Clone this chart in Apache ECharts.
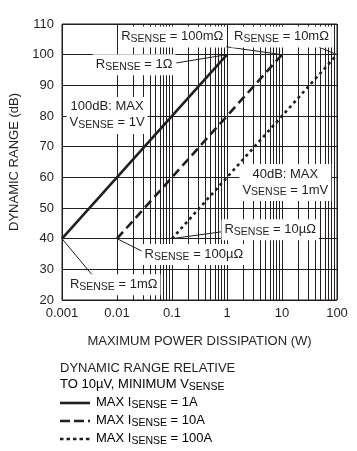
<!DOCTYPE html>
<html><head><meta charset="utf-8">
<script src="https://cdn.jsdelivr.net/npm/echarts@6/dist/echarts.min.js"></script>
<style>html,body{margin:0;padding:0;background:#fff}#c{width:357px;height:451px}</style>
</head><body><div id="c"></div>
<script>
const FONT = "'Liberation Sans Narrow', 'Arial Narrow', 'Liberation Sans', sans-serif";
const INK = '#231f20';
const FS = 13;

// Axis ticks
const xTickLabels = ['0.001', '0.01', '0.1', '1', '10', '100'];
const yTickLabels = [20, 30, 40, 50, 60, 70, 80, 90, 100, 110];
const minorMultipliers = [2, 3, 4, 5, 6, 7, 8, 9];
const decades = [0.001, 0.01, 0.1, 1, 10];

// Series (dynamic range vs max power dissipation)
const solid1A = [[0.001, 40], [1, 100]];
const dashed10A = [[0.01, 40], [10, 100]];
const dotted100A = [[0.1, 40], [100, 100]];

// Annotation texts and their anchor positions (data coords)
const annoLabels = [
  { coord: [0.101, 105.8], text: '{n|R}{s|SENSE}{n| = 100mΩ}' },
  { coord: [0.0205, 96.7], text: '{n|R}{s|SENSE}{n| = 1Ω}' },
  { coord: [9.8, 105.8], text: '{n|R}{s|SENSE}{n| = 10mΩ}' },
  { coord: [0.0066, 80.2], text: '{n|100dB: MAX}\n{n|V}{s|SENSE}{n| = 1V}' },
  { coord: [11.5, 58.3], text: '{n|40dB: MAX}\n{n|V}{s|SENSE}{n| = 1mV}' },
  { coord: [6.1, 42.9], text: '{n|R}{s|SENSE}{n| = 10µΩ}' },
  { coord: [0.25, 34.8], text: '{n|R}{s|SENSE}{n| = 100µΩ}' },
  { coord: [0.0087, 25.0], text: '{n|R}{s|SENSE}{n| = 1mΩ}' }
];
// Arrows: [from, to] in data coords
const arrows = [
  [[0.12, 97.3], [1, 100]],
  [[0.95, 102.6], [10, 100]],
  [[45, 102.6], [100, 100]],
  [[0.84, 42.3], [0.1, 40]],
  [[0.031, 35.6], [0.01, 40]],
  [[0.0038, 27.5], [0.001, 40]]
];

const minorX = [];
decades.forEach(d => minorMultipliers.forEach(m => minorX.push(+(d * m).toPrecision(3))));

const rich = {
  n: { fontFamily: FONT, fontSize: FS, color: INK, lineHeight: 16 },
  s: { fontFamily: FONT, fontSize: 10.5, color: INK, lineHeight: 6, verticalAlign: 'bottom' }
};

const chart = echarts.init(document.getElementById('c'), null, { renderer: 'canvas' });
chart.setOption({
  animation: false,
  backgroundColor: '#fff',
  textStyle: { fontFamily: FONT },
  grid: { left: 60, right: 20, top: 24, bottom: 151, show: true, borderColor: INK, borderWidth: 1, backgroundColor: 'transparent' },
  xAxis: {
    type: 'log', logBase: 10, min: 0.001, max: 100,
    name: 'MAXIMUM POWER DISSIPATION (W)', nameLocation: 'middle', nameGap: 35,
    nameTextStyle: { fontFamily: FONT, fontSize: FS, color: INK },
    axisLine: { show: false }, axisTick: { show: false },
    splitLine: { show: true, lineStyle: { color: INK, width: 1 } },
    axisLabel: {
      fontFamily: FONT, fontSize: FS, color: INK, margin: 7,
      formatter: v => xTickLabels[Math.round(Math.log10(v)) + 3]
    }
  },
  yAxis: {
    type: 'value', min: 20, max: 110, interval: 10,
    name: 'DYNAMIC RANGE (dB)', nameLocation: 'middle', nameGap: 41, nameRotate: 90,
    nameTextStyle: { fontFamily: FONT, fontSize: FS, color: INK },
    axisLine: { show: false }, axisTick: { show: false },
    splitLine: { show: true, lineStyle: { color: INK, width: 1 } },
    axisLabel: { fontFamily: FONT, fontSize: FS, color: INK, margin: 8, formatter: v => String(v) }
  },
  series: [
    {
      type: 'line', name: 'grid', data: [], z: 1, silent: true,
      markLine: {
        silent: true, symbol: ['none', 'none'], animation: false,
        label: { show: false },
        lineStyle: { color: INK, width: 1, type: 'solid' },
        data: minorX.map(v => ({ xAxis: v }))
      }
    },
    { type: 'line', name: 'MAX ISENSE = 1A', data: solid1A, symbol: 'none', z: 5,
      lineStyle: { color: INK, width: 2.6, type: 'solid' } },
    { type: 'line', name: 'MAX ISENSE = 10A', data: dashed10A, symbol: 'none', z: 5,
      lineStyle: { color: INK, width: 2.6, type: [9, 5] } },
    { type: 'line', name: 'MAX ISENSE = 100A', data: dotted100A, symbol: 'none', z: 5,
      lineStyle: { color: INK, width: 2.6, type: [3, 3.5] } },
    {
      type: 'line', name: 'annotations', data: [], z: 10, silent: true,
      markLine: {
        silent: true, animation: false, symbol: ['none', 'arrow'], symbolSize: [0, 8],
        label: { show: false },
        lineStyle: { color: INK, width: 1, type: 'solid' },
        data: arrows.map(a => [{ coord: a[0] }, { coord: a[1] }])
      },
      markPoint: {
        silent: true, animation: false, symbol: 'circle', symbolSize: 0,
        data: annoLabels.map(a => ({
          coord: a.coord,
          label: {
            show: true, position: 'inside', formatter: a.text, rich: rich,
            backgroundColor: '#fff', padding: [2, 3, 3, 3], align: 'center'
          }
        }))
      }
    }
  ],
  graphic: [
    { type: 'text', left: 60, top: 362, style: { text: 'DYNAMIC RANGE RELATIVE', font: FS + 'px ' + FONT, fill: INK } },
    { type: 'text', left: 60, top: 378, style: { text: '{n|TO 10µV, MINIMUM V}{s|SENSE}', rich: rich } },
    { type: 'line', shape: { x1: 60, y1: 403, x2: 90, y2: 403 }, style: { stroke: INK, lineWidth: 2.6 } },
    { type: 'line', shape: { x1: 60, y1: 421, x2: 90, y2: 421 }, style: { stroke: INK, lineWidth: 2.6, lineDash: [10, 4] } },
    { type: 'line', shape: { x1: 60, y1: 439, x2: 90, y2: 439 }, style: { stroke: INK, lineWidth: 2.6, lineDash: [3.5, 3] } },
    { type: 'text', left: 96, top: 396, style: { text: '{n|MAX I}{s|SENSE}{n| = 1A}', rich: rich } },
    { type: 'text', left: 96, top: 414, style: { text: '{n|MAX I}{s|SENSE}{n| = 10A}', rich: rich } },
    { type: 'text', left: 96, top: 432, style: { text: '{n|MAX I}{s|SENSE}{n| = 100A}', rich: rich } }
  ]
});
</script>
</body></html>
